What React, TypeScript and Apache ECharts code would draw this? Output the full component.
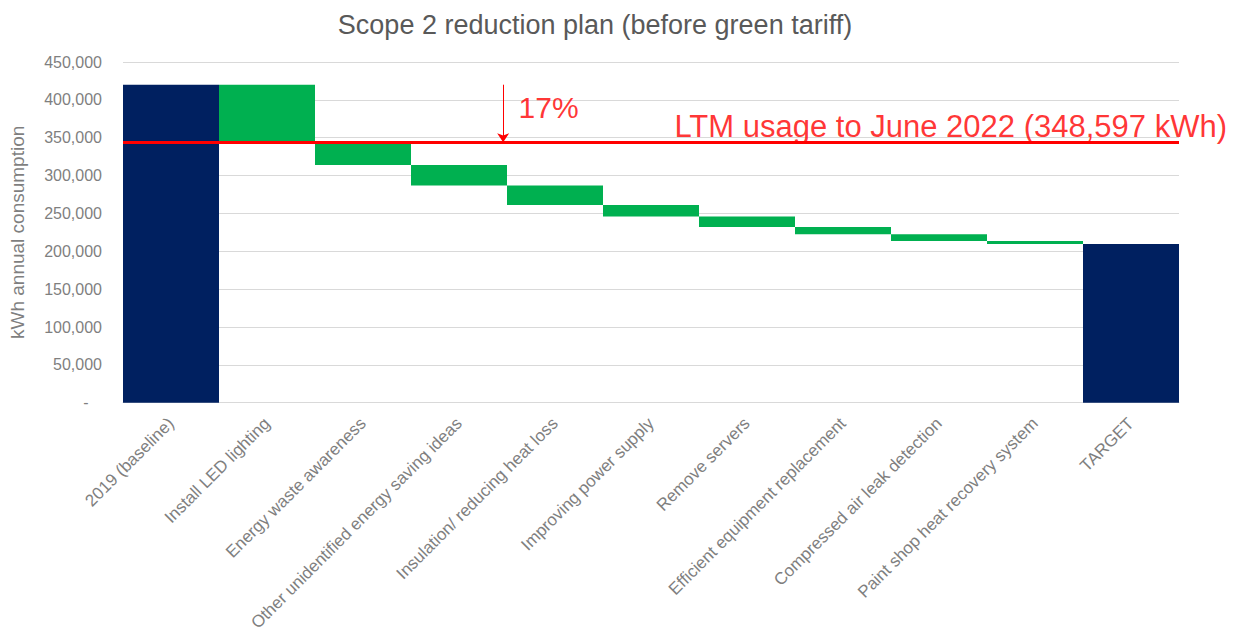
import React, { useEffect, useRef } from "react";
import * as echarts from "echarts";

const titleText = "Scope 2 reduction plan (before green tariff)";
const yAxisName = "kWh annual consumption";
const categories = [
  "2019 (baseline)",
  "Install LED lighting",
  "Energy waste awareness",
  "Other unidentified energy saving ideas",
  "Insulation/ reducing heat loss",
  "Improving power supply",
  "Remove servers",
  "Efficient equipment replacement",
  "Compressed air leak detection",
  "Paint shop heat recovery system",
  "TARGET",
];
const baselineValue = 420000;
const savings = [76000, 30000, 27000, 26000, 15000, 14000, 9500, 9000, 4000];
const ltmValue = 344000;
const ltmText = "LTM usage to June 2022 (348,597 kWh)";
const reductionText = "17%";
const yTicks = { min: 0, max: 450000, interval: 50000 };

const FONT = "'Liberation Sans', Arial, sans-serif";
const NAVY = "#002060";
const GREEN = "#00B050";
const RED = "#FF0000";
const GRAY = "#7f7f7f";

export default function App() {
  const ref = useRef<HTMLDivElement>(null);

  useEffect(() => {
    if (!ref.current) return;
    const chart = echarts.init(ref.current, null, { renderer: "svg" });

    const baseData: number[] = [0];
    const visData: any[] = [{ value: baselineValue, itemStyle: { color: NAVY } }];
    let running = baselineValue;
    savings.forEach((s) => {
      running -= s;
      baseData.push(running);
      visData.push({ value: s, itemStyle: { color: GREEN } });
    });
    baseData.push(0);
    visData.push({ value: running, itemStyle: { color: NAVY } });

    const n = categories.length;

    chart.setOption({
      animation: false,
      textStyle: { fontFamily: FONT },
      title: {
        text: titleText,
        left: 590,
        textAlign: "center",
        top: 6,
        textStyle: { fontSize: 27, fontWeight: "normal", color: "#595959", fontFamily: FONT },
      },
      grid: { left: 121, right: 60, top: 62, bottom: 229, containLabel: false },
      xAxis: [
        {
          type: "category",
          data: categories,
          axisLine: { show: true, lineStyle: { color: "#d9d9d9" } },
          axisTick: { show: false },
          axisLabel: {
            interval: 0,
            rotate: 45,
            fontSize: 17,
            color: GRAY,
            margin: 18,
            fontFamily: FONT,
          },
        },
        { type: "value", min: 0, max: n, show: false },
      ],
      yAxis: {
        type: "value",
        min: yTicks.min,
        max: yTicks.max,
        interval: yTicks.interval,
        name: yAxisName,
        nameLocation: "middle",
        nameRotate: 90,
        nameGap: 96,
        nameTextStyle: { fontSize: 19, color: GRAY, fontFamily: FONT },
        axisLine: { show: false },
        axisTick: { show: false },
        splitLine: { lineStyle: { color: "#d9d9d9", width: 1 } },
        axisLabel: {
          fontSize: 16,
          color: GRAY,
          margin: 21,
          fontFamily: FONT,
          formatter: (v: number) => (v === 0 ? "-   " : v.toLocaleString("en-US")),
        },
      },
      series: [
        {
          type: "bar",
          stack: "wf",
          data: baseData,
          itemStyle: { color: "transparent" },
          barCategoryGap: "0%",
          silent: true,
        },
        {
          type: "bar",
          stack: "wf",
          data: visData,
          barCategoryGap: "0%",
          markLine: {
            silent: true,
            symbol: ["none", "none"],
            lineStyle: { color: RED, width: 3, type: "solid" },
            label: { show: false },
            data: [{ yAxis: ltmValue }],
          },
        },
        {
          type: "scatter",
          xAxisIndex: 1,
          clip: false,
          symbolSize: 0,
          data: [[3.96, ltmValue]],
          markLine: {
            silent: true,
            symbol: ["none", "arrow"],
            symbolSize: 9,
            lineStyle: { color: RED, width: 1, type: "solid" },
            label: { show: false },
            data: [[{ coord: [3.96, baselineValue] }, { coord: [3.96, ltmValue] }]],
          },
        },
        {
          type: "scatter",
          xAxisIndex: 1,
          clip: false,
          symbolSize: 0,
          data: [[4.12, 390000]],
          label: {
            show: true,
            position: [0, 0],
            align: "left",
            verticalAlign: "middle",
            formatter: reductionText,
            fontSize: 30,
            color: RED,
            fontFamily: FONT,
          },
        },
        {
          type: "scatter",
          xAxisIndex: 1,
          clip: false,
          symbolSize: 0,
          data: [[11.5, ltmValue]],
          label: {
            show: true,
            position: [0, 0],
            align: "right",
            verticalAlign: "bottom",
            offset: [0, 0],
            formatter: ltmText,
            fontSize: 31,
            color: RED,
            fontFamily: FONT,
          },
        },
      ],
    });

    return () => chart.dispose();
  }, []);

  return (
    <div
      ref={ref}
      style={{ position: "fixed", left: 0, top: 0, width: 1239, height: 634, background: "#fff" }}
    />
  );
}
